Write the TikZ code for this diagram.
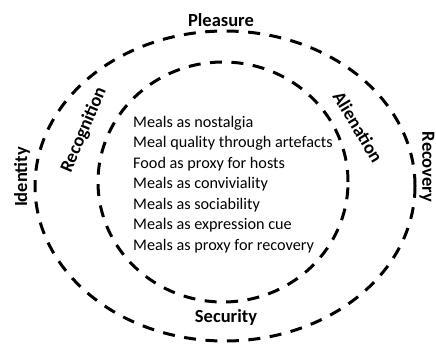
\documentclass[tikz,border=0pt]{standalone}
\usepackage{fontspec}
\setmainfont{Carlito}
\usepackage{tikz}

\begin{document}
\begin{tikzpicture}[x=1pt,y=-1pt]
            \tikzstyle{every node}=[font=\fontsize{18.5}{22}\selectfont\bfseries,inner sep=0pt]
            \tikzstyle{ring}=[dash pattern=on 12pt off 9.5pt,line width=3pt]
            \useasboundingbox (0,0) rectangle (436,343);
            \draw[ring] (225,186) ellipse [x radius=190pt, y radius=155pt];
            \draw[ring] (223,182) ellipse [x radius=125pt, y radius=120pt];
            \node (pleasure) at (221,20) {Pleasure};
            \node (security) at (226,317) {Security};
            \node[rotate=90] (identity) at (22,177) {Identity};
            \node[rotate=-90] (recovery) at (427,167) {Recovery};
            \node[rotate=67] (recognition) at (84,130) {Recognition};
            \node[rotate=-59] (alienation) at (358,127) {Alienation};
            % themes inside the inner ring
            \node[anchor=north west,align=left,font=\fontsize{16.2}{20.5}\selectfont] (themes) at (133,116)
              {Meals as nostalgia\\Meal quality through artefacts\\Food as proxy for hosts\\Meals as conviviality\\Meals as sociability\\Meals as expression cue\\Meals as proxy for recovery};
          \end{tikzpicture}
\end{document}
